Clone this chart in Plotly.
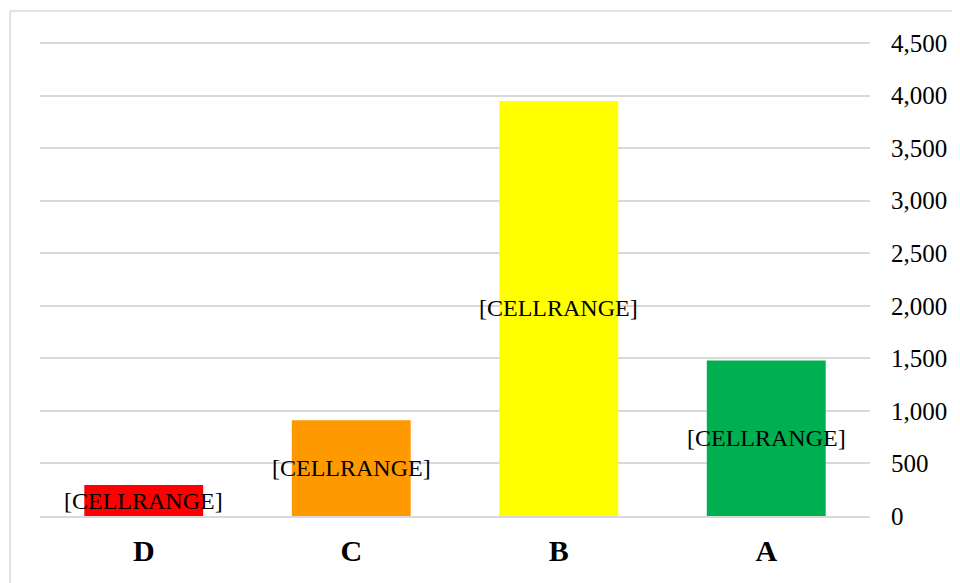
import plotly.graph_objects as go

categories = ["D", "C", "B", "A"]
values = [295, 910, 3950, 1480]
colors = ["#ff0000", "#ff9900", "#ffff00", "#00b050"]
label_text = "[CELLRANGE]"
y_ticks = [0, 500, 1000, 1500, 2000, 2500, 3000, 3500, 4000, 4500]

fig = go.Figure()
fig.add_trace(
    go.Bar(
        x=categories,
        y=values,
        marker=dict(color=colors, line=dict(width=0)),
        width=0.573,
        showlegend=False,
    )
)

# labels sit centred on each bar, allowed to spill over the edges
for cat, val in zip(categories, values):
    fig.add_annotation(
        x=cat,
        y=val / 2,
        text=label_text,
        showarrow=False,
        font=dict(family="Liberation Serif", size=24, color="#000000"),
    )

# light frame: only the top and left edges are on screen
frame = dict(color="#d9d9d9", width=1.5)
fig.add_shape(type="line", xref="paper", yref="paper",
              x0=-0.036, x1=1.2, y0=1.063, y1=1.063, line=frame)
fig.add_shape(type="line", xref="paper", yref="paper",
              x0=-0.036, x1=-0.036, y0=-0.3, y1=1.063, line=frame)

# the page adds an 8px body margin, so the figure is shrunk and shifted to suit
fig.update_layout(
    width=952,
    height=575,
    margin=dict(l=32, r=90, t=33, b=67),
    paper_bgcolor="white",
    plot_bgcolor="white",
    font=dict(family="Liberation Serif", color="#000000"),
    bargap=0.427,
    xaxis=dict(
        showgrid=False,
        showline=True,
        linecolor="#d9d9d9",
        linewidth=2,
        tickfont=dict(family="Liberation Serif", size=30, color="#000000", weight="bold"),
        ticks="",
        ticklabelstandoff=7,
    ),
    yaxis=dict(
        side="right",
        range=[0, 4520],
        tickvals=y_ticks,
        tickformat=",",
        showgrid=True,
        gridcolor="#d9d9d9",
        gridwidth=1.5,
        zeroline=False,
        showline=False,
        ticks="",
        ticklabelstandoff=20,
        tickfont=dict(family="Liberation Serif", size=25, color="#000000"),
    ),
)

fig.write_html("out.html")
